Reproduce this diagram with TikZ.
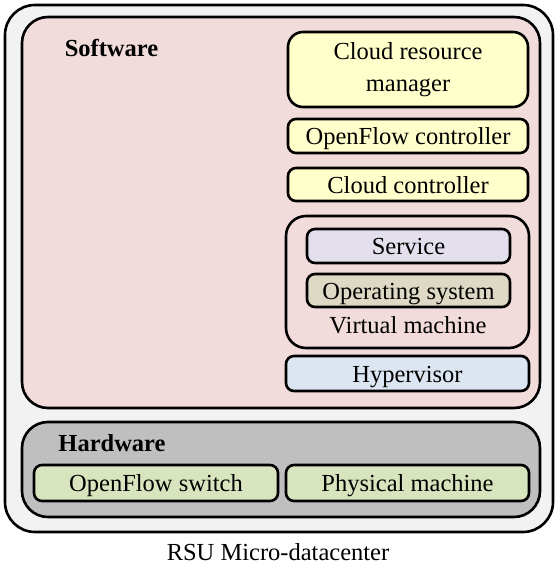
\documentclass[tikz,border=0pt]{standalone}
\usepackage{fontspec}
\setmainfont{Liberation Serif}
\definecolor{outerfill}{HTML}{F2F2F2}
\definecolor{swfill}{HTML}{F2DCDB}
\definecolor{yel}{HTML}{FFFFCC}
\definecolor{svc}{HTML}{E4DFEC}
\definecolor{osc}{HTML}{DDD9C4}
\definecolor{hyp}{HTML}{DCE6F2}
\definecolor{hwfill}{HTML}{BFBFBF}
\definecolor{grn}{HTML}{D7E4BD}
\begin{document}
\begin{tikzpicture}[x=1pt,y=-1pt,
  box/.style={draw=black,line width=2.6pt,rectangle,inner sep=0pt,align=center,
    font=\fontsize{24.5}{31.7}\selectfont},
  one/.style={text height=17pt,text depth=0pt},
  lbl/.style={inner sep=0pt,anchor=base,font=\fontsize{24.5}{30}\selectfont}]
\useasboundingbox (0,0) rectangle (556,567);
\node[box,fill=outerfill,rounded corners=30pt,minimum width=548,minimum height=527] (outer) at (279,268.5) {};
\node[box,fill=swfill,rounded corners=26pt,minimum width=518,minimum height=391] (sw) at (281,212.5) {};
\node[lbl,font=\fontsize{24.5}{30}\selectfont\bfseries] (swl) at (111.5,57) {Software};
\node[box,fill=yel,rounded corners=15pt,minimum width=240,minimum height=75] (crm) at (408,69.5) {Cloud resource\\manager};
\node[box,one,fill=yel,rounded corners=8pt,minimum width=240,minimum height=34] (ofc) at (408,136) {OpenFlow controller};
\node[box,one,fill=yel,rounded corners=8pt,minimum width=240,minimum height=33] (cc) at (408,184.5) {Cloud controller};
\node[box,fill=swfill,rounded corners=20pt,minimum width=243,minimum height=132] (vm) at (407.5,282) {};
\node[box,one,fill=svc,rounded corners=8pt,minimum width=203,minimum height=34] (svc) at (408.5,246) {Service};
\node[box,one,fill=osc,rounded corners=8pt,minimum width=203,minimum height=33] (os) at (408.5,290.5) {Operating system};
\node[lbl] (vml) at (408,333) {Virtual machine};
\node[box,one,fill=hyp,rounded corners=8pt,minimum width=243,minimum height=35] (hyp) at (407.5,373.5) {Hypervisor};
\node[box,fill=hwfill,rounded corners=26pt,minimum width=518,minimum height=95] (hw) at (281,469.5) {};
\node[lbl,font=\fontsize{24.5}{30}\selectfont\bfseries] (hwl) at (112,451.5) {Hardware};
\node[box,one,fill=grn,rounded corners=8pt,minimum width=244,minimum height=36] (ofs) at (156,483) {OpenFlow switch};
\node[box,one,fill=grn,rounded corners=8pt,minimum width=243,minimum height=36] (pm) at (407.5,483) {Physical machine};
\node[lbl] (rsu) at (278,560) {RSU Micro-datacenter};
\end{tikzpicture}
\end{document}
